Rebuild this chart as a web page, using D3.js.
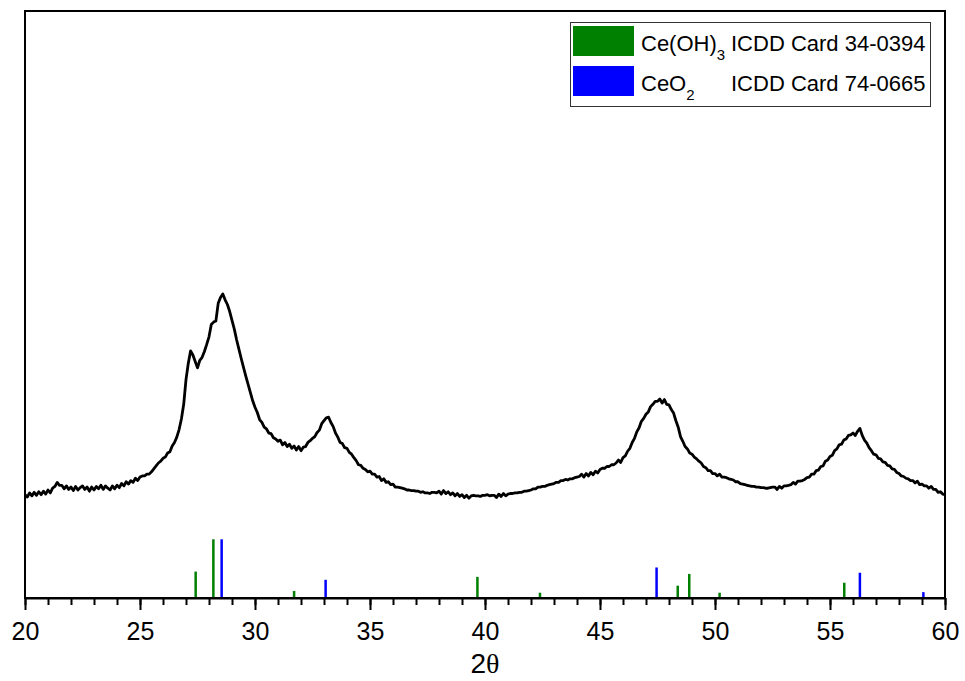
<!DOCTYPE html>
<html>
<head>
<meta charset="utf-8">
<script src="https://cdn.jsdelivr.net/npm/d3@7"></script>
<style>
  html, body { margin: 0; padding: 0; background: #fff; }
  svg { display: block; }
</style>
</head>
<body>
<svg id="chart" width="965" height="681"></svg>
<script>
// XRD pattern: 2θ from 20.0° to 60.0° in 0.1° steps (intensity, offset above the card sticks)
const twoThetaStart = 20.0;
const twoThetaStep = 0.1;
const xrdIntensity = [
  176,172,179,174,180,175,181,176,182,177,   // 20
  184,179,187,190,197,192,192,186,191,185,   // 21
  189,183,190,184,188,191,185,189,182,189,   // 22
  184,190,186,192,185,191,187,184,191,186,   // 23
  192,188,195,191,198,194,200,197,204,200,   // 24
  206,208,208,211,211,215,220,225,230,233,   // 25
  238,240,247,249,259,265,274,287,305,330,   // 26
  372,400,421,414,403,392,405,410,420,432,   // 27
  445,466,470,472,502,512,518,508,500,488,   // 28
  473,458,440,424,408,393,378,364,350,336,   // 29
  325,316,304,299,291,288,281,280,273,271,   // 30
  267,269,261,265,258,262,255,259,252,258,   // 31
  251,257,258,265,268,272,275,282,286,297,   // 32
  302,307,308,299,292,281,274,265,263,256,   // 33
  255,248,245,239,234,227,226,221,219,215,   // 34
  216,211,211,206,207,200,203,197,198,193,   // 35
  194,189,189,188,187,186,184,184,183,183,   // 36
  182,182,180,181,179,179,178,180,180,179,   // 37
  182,177,183,178,181,176,179,174,178,173,   // 38
  176,171,175,170,174,175,174,174,173,175,   // 39
  175,176,174,175,175,171,177,173,178,174,   // 40
  177,178,178,179,179,180,180,182,182,183,   // 41
  184,186,186,189,189,190,190,192,193,194,   // 42
  195,197,197,200,200,202,201,203,203,205,   // 43
  206,207,211,206,212,208,214,210,216,213,   // 44
  219,221,221,224,224,227,227,230,235,231,   // 45
  239,242,250,255,265,272,283,290,301,306,   // 46
  313,317,326,330,335,335,339,332,338,330,   // 47
  329,321,315,302,291,275,267,258,254,247,   // 48
  245,240,237,233,230,224,222,217,217,212,   // 49
  212,208,211,206,206,205,203,202,201,198,   // 50
  198,195,194,193,192,191,190,190,189,189,   // 51
  188,188,187,187,188,189,189,185,190,187,   // 52
  191,191,192,193,197,194,199,199,200,202,   // 53
  205,206,211,211,217,218,224,225,233,235,   // 54
  241,243,251,254,261,262,269,271,277,278,   // 55
  281,277,284,289,277,269,264,256,251,245,   // 56
  244,238,237,232,231,226,225,220,219,214,   // 57
  212,208,207,204,203,200,200,196,199,193,   // 58
  194,191,191,187,190,185,185,180,181,177,   // 59
  176                                         // 60
];

// Reference card lines: position (2θ) and relative intensity (%)
const ceOH3Angles      = [27.42, 28.19, 31.70, 39.67, 42.39, 48.38, 48.88, 50.20, 55.62];
const ceOH3Intensities = [45, 100, 12, 36, 9, 21, 41, 9, 26];
const ceO2Angles       = [28.55, 33.07, 47.46, 56.30, 59.06];
const ceO2Intensities  = [100, 31, 52, 43, 10];

// Axis ticks
const majorTicks = [20, 25, 30, 35, 40, 45, 50, 55, 60];
const minorTicks = d3.range(20, 61, 1);

// Legend entries
const legendNames = ["Ce(OH)", "CeO"];
const legendSubs  = ["3", "2"];
const legendCards = ["ICDD Card 34-0394", "ICDD Card 74-0665"];
const legendColors = ["#008000", "#0000ff"];

const svg = d3.select("#chart");
const margin = { left: 25, right: 20, top: 11, bottom: 83 };
const W = 965, H = 681;

const x = d3.scaleLinear().domain([20, 60]).range([margin.left, W - margin.right]);
const y = d3.scaleLinear().domain([0, 1000]).range([H - margin.bottom, margin.top]);

// Pattern
const pattern = xrdIntensity.map((v, i) => ({ t: twoThetaStart + i * twoThetaStep, v }));
svg.append("path")
  .datum(pattern)
  .attr("fill", "none")
  .attr("stroke", "#000")
  .attr("stroke-width", 2.8)
  .attr("stroke-linejoin", "round")
  .attr("d", d3.line().x(d => x(d.t)).y(d => y(d.v)));

// Card sticks
function drawSticks(angles, intensities, color) {
  svg.append("g")
    .selectAll("line")
    .data(angles.map((a, i) => ({ a, v: intensities[i] })))
    .join("line")
    .attr("x1", d => x(d.a)).attr("x2", d => x(d.a))
    .attr("y1", y(0)).attr("y2", d => y(d.v))
    .attr("stroke", color)
    .attr("stroke-width", 2.5);
}
drawSticks(ceOH3Angles, ceOH3Intensities, legendColors[0]);
drawSticks(ceO2Angles, ceO2Intensities, legendColors[1]);

// Frame
svg.append("rect")
  .attr("x", margin.left).attr("y", margin.top)
  .attr("width", x(60) - x(20)).attr("height", y(0) - y(1000))
  .attr("fill", "none").attr("stroke", "#000").attr("stroke-width", 2);

// Bottom axis: minor then major ticks
const minorAxis = svg.append("g")
  .attr("transform", `translate(0,${y(0)})`)
  .call(d3.axisBottom(x).tickValues(minorTicks).tickSize(7).tickFormat(""));
minorAxis.select(".domain").remove();
minorAxis.selectAll("line").attr("stroke", "#000").attr("stroke-width", 2);

const majorAxis = svg.append("g")
  .attr("transform", `translate(0,${y(0)})`)
  .call(d3.axisBottom(x).tickValues(majorTicks).tickSize(12).tickPadding(12).tickSizeOuter(0));
majorAxis.select(".domain").attr("stroke", "#000").attr("stroke-width", 2);
majorAxis.selectAll("line").attr("stroke", "#000").attr("stroke-width", 2);
majorAxis.selectAll("text")
  .attr("font-family", "Liberation Sans, Arial, sans-serif")
  .attr("font-size", 25)
  .attr("fill", "#000");

// Axis title 2θ
const title = svg.append("text")
  .attr("x", (x(20) + x(60)) / 2)
  .attr("y", 673)
  .attr("text-anchor", "middle")
  .attr("font-family", "Liberation Sans, Arial, sans-serif")
  .attr("font-size", 28)
  .attr("fill", "#000");
title.append("tspan").text("2");
title.append("tspan").attr("font-family", "Liberation Serif, Times New Roman, serif").text("θ");

// Legend
const legend = svg.append("g");
legend.append("rect")
  .attr("x", 570.5).attr("y", 22.5).attr("width", 360).attr("height", 84)
  .attr("fill", "#fff").attr("stroke", "#333").attr("stroke-width", 1);

legendNames.forEach((name, i) => {
  const top = 26 + i * 40;
  legend.append("rect")
    .attr("x", 573).attr("y", top).attr("width", 61).attr("height", 30)
    .attr("fill", legendColors[i]);
  const t = legend.append("text")
    .attr("x", 641).attr("y", top + 25)
    .attr("font-family", "Liberation Sans, Arial, sans-serif")
    .attr("font-size", 22)
    .attr("fill", "#000");
  t.append("tspan").text(name);
  t.append("tspan").attr("font-size", 15).attr("dy", 9).text(legendSubs[i]);
  legend.append("text")
    .attr("x", 731).attr("y", top + 25)
    .attr("font-family", "Liberation Sans, Arial, sans-serif")
    .attr("font-size", 22)
    .attr("fill", "#000")
    .text(legendCards[i]);
});
</script>
</body>
</html>
